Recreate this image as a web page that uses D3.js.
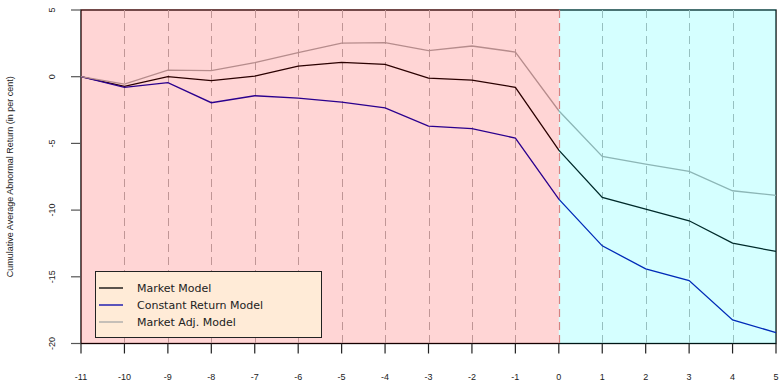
<!DOCTYPE html>
<html><head><meta charset="utf-8">
<script src="https://cdn.jsdelivr.net/npm/d3@7"></script>
<style>body{margin:0;background:#fff}svg{display:block}</style>
</head><body>
<svg id="c" width="780" height="384"></svg>
<script>
const days = [-11,-10,-9,-8,-7,-6,-5,-4,-3,-2,-1,0,1,2,3,4,5];
const marketModel = [0,-0.72,0.0,-0.3,0.05,0.8,1.08,0.93,-0.1,-0.25,-0.8,-5.5,-9.05,-9.93,-10.8,-12.48,-13.1];
const constantReturn = [0,-0.8,-0.45,-1.95,-1.43,-1.6,-1.9,-2.33,-3.7,-3.9,-4.6,-9.18,-12.68,-14.4,-15.28,-18.23,-19.18];
const marketAdj = [0,-0.55,0.5,0.45,1.05,1.8,2.52,2.55,1.95,2.3,1.85,-2.55,-5.98,-6.55,-7.1,-8.55,-8.9];
const yTicks = [5,0,-5,-10,-15,-20];
const seriesNames = ["Market Model","Constant Return Model","Market Adj. Model"];
const seriesColors = ["#000000","#0000aa","#a8a8a8"];
const seriesData = [marketModel, constantReturn, marketAdj];
const yTitle = "Cumulative Average Abnormal Return (in per cent)";

const svg = d3.select("#c");
const x = d3.scaleLinear().domain([-11,5]).range([81,776]);
const y = d3.scaleLinear().domain([-20,5]).range([343.5,10]);

// frame
svg.append("rect").attr("x",x(-11)).attr("y",y(5)).attr("width",x(5)-x(-11)).attr("height",y(-20)-y(5))
  .attr("fill","#fff").attr("stroke","#000").attr("stroke-width",1.3);

// grid
svg.append("g").selectAll("line").data(days.filter(d=>d>-11 && d<5 && d!==0)).join("line")
  .attr("x1",d=>Math.round(x(d))+0.5).attr("x2",d=>Math.round(x(d))+0.5)
  .attr("y1",y(5)).attr("y2",y(-20))
  .attr("stroke","#b4b4b4").attr("stroke-width",1).attr("stroke-dasharray","8,5");
svg.append("line").attr("x1",Math.round(x(0))+0.5).attr("x2",Math.round(x(0))+0.5)
  .attr("y1",y(5)).attr("y2",y(-20))
  .attr("stroke","#ff6a6a").attr("stroke-width",1.2).attr("stroke-dasharray","8,5");

// lines
const line = d3.line().x((d,i)=>x(days[i])).y(d=>y(d));
seriesData.forEach((s,k)=>{
  svg.append("path").datum(s).attr("d",line).attr("fill","none")
    .attr("stroke",seriesColors[k]).attr("stroke-width",1.3);
});

// overlays
svg.append("rect").attr("x",x(-11)).attr("y",y(5)-1).attr("width",x(0)-x(-11)).attr("height",y(-20)-y(5)+1)
  .attr("fill","#ff0000").attr("fill-opacity",0.165);
svg.append("rect").attr("x",x(0)).attr("y",y(5)-1).attr("width",x(5)-x(0)).attr("height",y(-20)-y(5)+1)
  .attr("fill","#00ffff").attr("fill-opacity",0.165);

// y axis
const yAxis = svg.append("g").attr("transform",`translate(${x(-11)},0)`);
yAxis.selectAll("line").data(yTicks).join("line")
  .attr("x1",-10).attr("x2",0).attr("y1",d=>y(d)).attr("y2",d=>y(d))
  .attr("stroke","#555").attr("stroke-width",1.2);
yAxis.selectAll("text").data(yTicks).join("text")
  .attr("transform",d=>`translate(-26,${y(d)}) rotate(-90)`)
  .attr("text-anchor","middle").attr("font-family","Liberation Sans, Arial, sans-serif")
  .attr("font-size",9).attr("fill","#222").text(d=>d);
svg.append("text").attr("transform",`translate(13,${(y(5)+y(-20))/2}) rotate(-90)`)
  .attr("text-anchor","middle").attr("font-family","Liberation Sans, Arial, sans-serif")
  .attr("font-size",9).attr("fill","#222").text(yTitle);

// x axis
const xAxis = svg.append("g").attr("transform",`translate(0,${y(-20)})`);
xAxis.selectAll("line").data(days).join("line")
  .attr("x1",d=>x(d)).attr("x2",d=>x(d)).attr("y1",0).attr("y2",10)
  .attr("stroke","#222").attr("stroke-width",1.2);
xAxis.selectAll("text").data(days).join("text")
  .attr("x",d=>x(d)).attr("y",36)
  .attr("text-anchor","middle").attr("font-family","Liberation Sans, Arial, sans-serif")
  .attr("font-size",9).attr("fill","#222").text(d=>d);

// legend
const lg = svg.append("g");
lg.append("rect").attr("x",95.5).attr("y",271.5).attr("width",226).attr("height",66)
  .attr("fill","#ffebd7").attr("stroke","#222").attr("stroke-width",1);
seriesNames.forEach((n,k)=>{
  const yy = 288 + k*17;
  lg.append("line").attr("x1",99).attr("x2",123).attr("y1",yy).attr("y2",yy)
    .attr("stroke",seriesColors[k]).attr("stroke-width",1.3);
  lg.append("text").attr("x",137).attr("y",yy+4).attr("font-family","DejaVu Sans, sans-serif")
    .attr("font-size",11).attr("fill","#222").text(n);
});
</script>
</body></html>
